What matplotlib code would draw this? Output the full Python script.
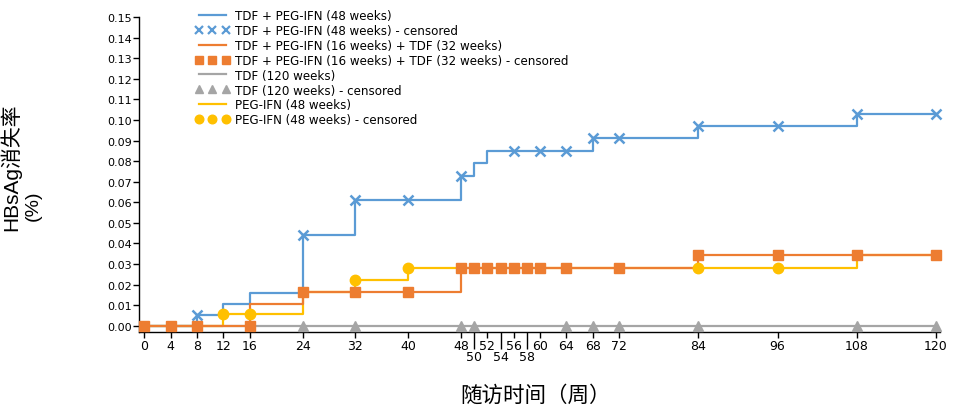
import matplotlib
matplotlib.use("Agg")
import matplotlib.pyplot as plt
from matplotlib.lines import Line2D

plt.rcParams['font.family'] = ['DejaVu Sans', 'Noto Sans CJK SC']

# ---- data ----
blue_t = [0, 8, 12, 16, 24, 32, 48, 50, 52, 68, 84, 108, 120]
blue_y = [0, 0.005, 0.0107, 0.016, 0.044, 0.061, 0.073, 0.079, 0.085, 0.091, 0.097, 0.103, 0.103]
blue_ct = [8, 24, 32, 40, 48, 56, 60, 64, 68, 72, 84, 96, 108, 120]
blue_cy = [0.005, 0.044, 0.061, 0.061, 0.073, 0.085, 0.085, 0.085, 0.091, 0.091, 0.097, 0.097, 0.103, 0.103]

orange_t = [0, 16, 24, 48, 84, 120]
orange_y = [0, 0.0107, 0.0165, 0.028, 0.0345, 0.0345]
orange_ct = [0, 4, 8, 16, 24, 32, 40, 48, 50, 52, 54, 56, 58, 60, 64, 72, 84, 96, 108, 120]
orange_cy = [0, 0, 0, 0, 0.0165, 0.0165, 0.0165, 0.028, 0.028, 0.028, 0.028, 0.028, 0.028,
             0.028, 0.028, 0.028, 0.0345, 0.0345, 0.0345, 0.0345]

gray_t = [0, 120]
gray_y = [0, 0]
gray_ct = [24, 32, 48, 50, 64, 68, 72, 84, 108, 120]
gray_cy = [0, 0, 0, 0, 0, 0, 0, 0, 0, 0]

yellow_t = [0, 12, 24, 32, 40, 108, 120]
yellow_y = [0, 0.0055, 0.0165, 0.022, 0.028, 0.0345, 0.0345]
yellow_ct = [12, 16, 32, 40, 84, 96]
yellow_cy = [0.0055, 0.0055, 0.022, 0.028, 0.028, 0.028]

major_ticks = [0, 4, 8, 12, 16, 24, 32, 40, 48, 52, 56, 60, 64, 68, 72, 84, 96, 108, 120]
minor_ticks = [50, 54, 58]
y_ticks = [0.00, 0.01, 0.02, 0.03, 0.04, 0.05, 0.06, 0.07, 0.08, 0.09, 0.10, 0.11, 0.12, 0.13, 0.14, 0.15]

labels = ["TDF + PEG-IFN (48 weeks)",
          "TDF + PEG-IFN (48 weeks) - censored",
          "TDF + PEG-IFN (16 weeks) + TDF (32 weeks)",
          "TDF + PEG-IFN (16 weeks) + TDF (32 weeks) - censored",
          "TDF (120 weeks)",
          "TDF (120 weeks) - censored",
          "PEG-IFN (48 weeks)",
          "PEG-IFN (48 weeks) - censored"]

BLUE = '#5B9BD5'
ORANGE = '#ED7D31'
GRAY = '#A5A5A5'
YELLOW = '#FFC000'

fig = plt.figure(figsize=(9.6, 4.1), dpi=100)
ax = fig.add_axes([0.1448, 0.188, 0.979 - 0.1448, 0.956 - 0.188])

lw = 1.6
ax.step(gray_t, gray_y, where='post', color=GRAY, lw=lw, zorder=2, clip_on=False)
ax.step(yellow_t, yellow_y, where='post', color=YELLOW, lw=lw, zorder=3, clip_on=False)
ax.step(blue_t, blue_y, where='post', color=BLUE, lw=lw, zorder=4, clip_on=False)
ax.step(orange_t, orange_y, where='post', color=ORANGE, lw=lw, zorder=5, clip_on=False)

ax.plot(gray_ct, gray_cy, ls='none', marker='^', ms=7, color=GRAY, zorder=6, clip_on=False)
ax.plot(yellow_ct, yellow_cy, ls='none', marker='o', ms=7.5, color=YELLOW, zorder=7, clip_on=False)
ax.plot(blue_ct, blue_cy, ls='none', marker='x', ms=6.5, mew=1.8, color=BLUE, zorder=8, clip_on=False)
ax.plot(orange_ct, orange_cy, ls='none', marker='s', ms=6.5, color=ORANGE, zorder=9, clip_on=False)

ax.set_xlim(-0.8, 120.6)
ax.set_ylim(-0.003, 0.15)

for s in ['top', 'right']:
    ax.spines[s].set_visible(False)
for s in ['left', 'bottom']:
    ax.spines[s].set_linewidth(1.0)

ax.set_yticks(y_ticks)
ax.set_yticklabels([f"{v:.2f}" for v in y_ticks])
ax.set_xticks(major_ticks)
ax.set_xticklabels([str(v) for v in major_ticks])
ax.set_xticks(minor_ticks, minor=True)
ax.set_xticklabels([str(v) for v in minor_ticks], minor=True)

ax.tick_params(axis='y', direction='out', length=4, width=1, labelsize=8, pad=1)
ax.tick_params(axis='x', which='major', direction='out', length=4, width=1, labelsize=9, pad=1)
ax.tick_params(axis='x', which='minor', direction='out', length=12, width=1, labelsize=9, pad=1)

ax.set_xlabel("随访时间（周）", fontsize=15.5, labelpad=12,
              family=['Noto Sans CJK SC', 'DejaVu Sans'])
ax.xaxis.set_label_coords(0.4955, -0.165)

# two-line y label
fig.text(10 / 960, 1 - 167 / 410, "HBsAg消失率", rotation=90, fontsize=15,
         ha='center', va='center', family=['Liberation Sans', 'Noto Sans CJK SC'])
fig.text(33 / 960, 1 - 206 / 410, "(%)", rotation=90, fontsize=14,
         ha='center', va='center', family=['Liberation Sans', 'Noto Sans CJK SC'])

handles = [
    Line2D([], [], color=BLUE, lw=lw),
    Line2D([], [], ls='none', marker='x', ms=5.5, mew=1.6, color=BLUE),
    Line2D([], [], color=ORANGE, lw=lw),
    Line2D([], [], ls='none', marker='s', ms=5.8, color=ORANGE),
    Line2D([], [], color=GRAY, lw=lw),
    Line2D([], [], ls='none', marker='^', ms=6, color=GRAY),
    Line2D([], [], color=YELLOW, lw=lw),
    Line2D([], [], ls='none', marker='o', ms=6.2, color=YELLOW),
]
fig.legend(handles, labels, loc='upper left', bbox_to_anchor=(195 / 960, 1 - 10 / 410),
           frameon=False, fontsize=8.6, numpoints=3, handlelength=2.9, handletextpad=0.45,
           labelspacing=0.16, borderpad=0, borderaxespad=0)

fig.savefig("out.png", dpi=100)
